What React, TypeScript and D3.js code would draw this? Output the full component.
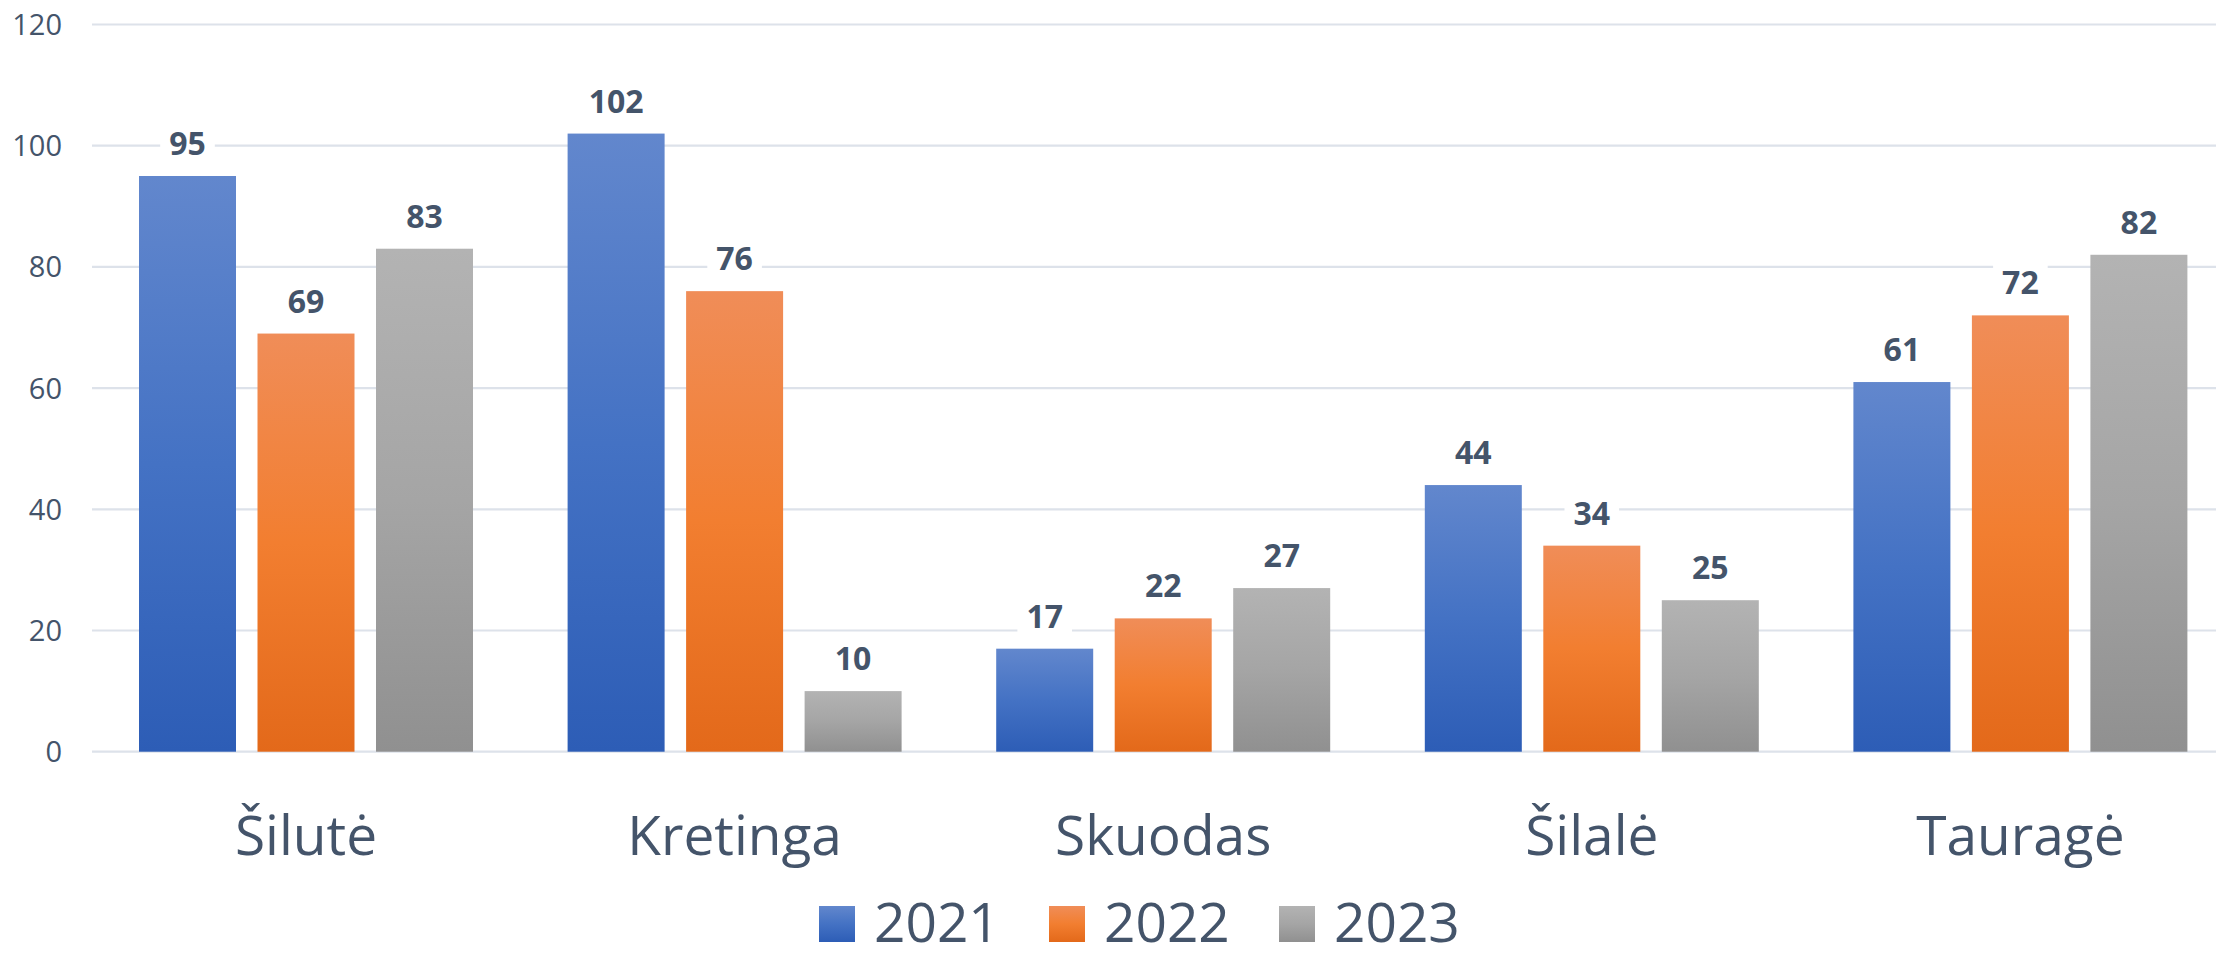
import React from "react";
import * as d3 from "d3";

const categories = ["Šilutė", "Kretinga", "Skuodas", "Šilalė", "Tauragė"];
const seriesNames = ["2021", "2022", "2023"];
const values2021 = [95, 102, 17, 44, 61];
const values2022 = [69, 76, 22, 34, 72];
const values2023 = [83, 10, 27, 25, 82];
const yTicks = [0, 20, 40, 60, 80, 100, 120];

const seriesValues = [values2021, values2022, values2023];
const gradients = [
  ["#6287cd", "#4472c4", "#2d5db6"],
  ["#f08d58", "#f27e30", "#e3691a"],
  ["#b3b3b3", "#a5a5a5", "#909090"],
];

const W = 2216;
const H = 957;
const TEXT = "#44546a";
const FONT = "'Open Sans', 'Noto Sans', sans-serif";

export default function App() {
  const x = d3.scaleBand<string>().domain(categories).range([91.7, 2234.7]).paddingInner(0).paddingOuter(0);
  const y = d3.scaleLinear().domain([0, 120]).range([751.7, 24.5]);
  const bw = 97;

  return (
    <svg width={W} height={H} style={{ position: "absolute", left: 0, top: 0, background: "#fff" }}>
      <defs>
        {gradients.map((g, i) => (
          <linearGradient key={i} id={`grad${i}`} x1="0" y1="0" x2="0" y2="1">
            <stop offset="0%" stopColor={g[0]} />
            <stop offset="50%" stopColor={g[1]} />
            <stop offset="100%" stopColor={g[2]} />
          </linearGradient>
        ))}
      </defs>
      {yTicks.map((t) => (
        <g key={t}>
          <line x1={92} x2={W} y1={y(t)} y2={y(t)} stroke="#dde2ea" strokeWidth={2.2} />
          <text x={62} y={y(t) + 10.5} textAnchor="end" fontFamily={FONT} fontSize={29} fill={TEXT}>
            {t}
          </text>
        </g>
      ))}
      {categories.map((c, ci) => {
        const cx = (x(c) as number) + x.bandwidth() / 2;
        return (
          <g key={c}>
            {seriesNames.map((s, si) => {
              const v = seriesValues[si][ci];
              const bx = cx + (si - 1) * 118.5 - bw / 2;
              const top = y(v);
              return (
                <rect key={s} x={bx} y={top} width={bw} height={y(0) - top} fill={`url(#grad${si})`} />
              );
            })}
          </g>
        );
      })}
      {categories.map((c, ci) => {
        const cx = (x(c) as number) + x.bandwidth() / 2;
        return (
          <g key={c + "-lbl"}>
            {seriesNames.map((s, si) => {
              const v = seriesValues[si][ci];
              const lx = cx + (si - 1) * 118.5;
              const base = y(v) - 21;
              const tw = String(v).length * 18.3;
              return (
                <g key={s}>
                  <rect x={lx - tw / 2 - 9} y={base - 31} width={tw + 18} height={40} fill="#fff" />
                  <text x={lx} y={base} textAnchor="middle" fontFamily={FONT} fontWeight={700} fontSize={32} fill={TEXT}>
                    {v}
                  </text>
                </g>
              );
            })}
            <text x={cx} y={855} textAnchor="middle" fontFamily={FONT} fontSize={55} fill={TEXT}>
              {c}
            </text>
          </g>
        );
      })}
      {seriesNames.map((s, si) => {
        const lx = 819 + si * 230;
        return (
          <g key={s + "-leg"}>
            <rect x={lx} y={906} width={36} height={36} fill={`url(#grad${si})`} />
            <text x={lx + 55} y={942} fontFamily={FONT} fontSize={55} fill={TEXT}>
              {s}
            </text>
          </g>
        );
      })}
    </svg>
  );
}
